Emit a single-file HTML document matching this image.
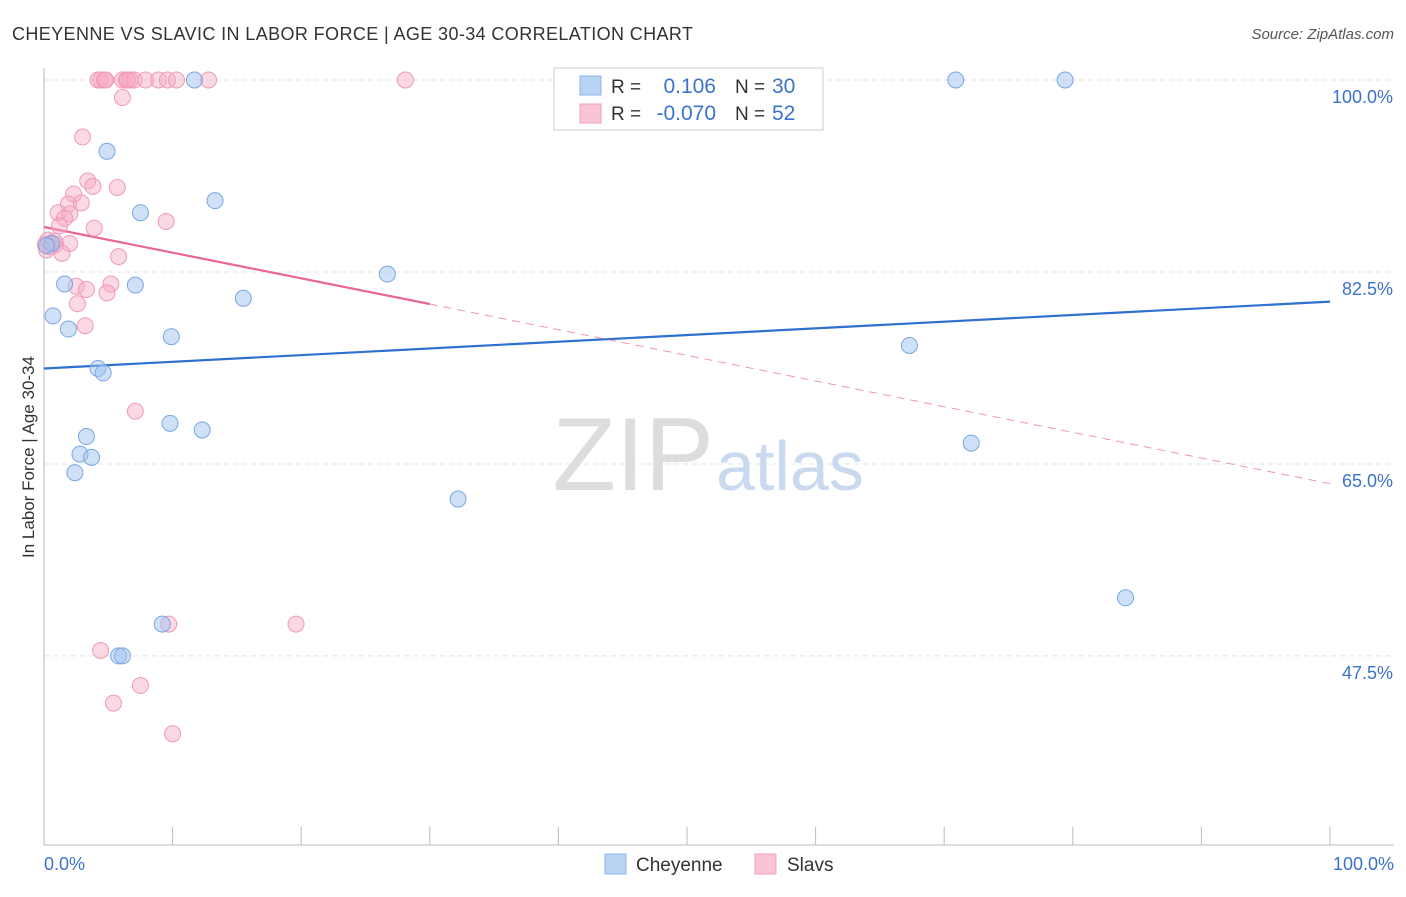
<!DOCTYPE html>
<html><head><meta charset="utf-8"><style>
body{margin:0;background:#fff;font-family:"Liberation Sans",sans-serif;}
svg text{font-family:"Liberation Sans",sans-serif;}
</style></head><body>
<svg id="chart" width="1406" height="892">
<text x="12" y="40" font-size="18" fill="#333" textLength="681">CHEYENNE VS SLAVIC IN LABOR FORCE | AGE 30-34 CORRELATION CHART</text>
<text x="1394" y="39" font-size="15" fill="#555" font-style="italic" text-anchor="end">Source: ZipAtlas.com</text>
<text x="0" y="0" transform="translate(34,457) rotate(-90)" font-size="17" fill="#333" text-anchor="middle">In Labor Force | Age 30-34</text>
<g id="grid"></g>
<g id="axes"></g>
<text x="714" y="490" font-size="104" fill="#ddd" font-family="Liberation Serif" text-anchor="end">ZIP</text>
<text x="716" y="490" font-size="70" fill="#c9d9ef">atlas</text>
<g id="lines"></g>
<g id="pts"></g>
<g>
<rect x="554" y="68" width="269" height="62" fill="#fff" stroke="#ccc"/>
<rect x="580" y="76" width="21" height="19" fill="#b9d3f5" stroke="#8fb4e8"/>
<rect x="580" y="104" width="21" height="19" fill="#f9c4d4" stroke="#f0a0b8"/>
<text x="611" y="93" font-size="19" fill="#333">R =</text>
<text x="716" y="93" font-size="21" fill="#3a73cc" text-anchor="end">0.106</text>
<text x="735" y="93" font-size="19" fill="#333">N =</text>
<text x="772" y="93" font-size="21" fill="#3a73cc">30</text>
<text x="611" y="120" font-size="19" fill="#333">R =</text>
<text x="716" y="120" font-size="21" fill="#3a73cc" text-anchor="end">-0.070</text>
<text x="735" y="120" font-size="19" fill="#333">N =</text>
<text x="772" y="120" font-size="21" fill="#3a73cc">52</text>
</g>
<g>
<rect x="605" y="854" width="21" height="20" fill="#b9d3f5" stroke="#8fb4e8"/>
<text x="636" y="871" font-size="19" fill="#333">Cheyenne</text>
<rect x="755" y="854" width="21" height="20" fill="#f9c4d4" stroke="#f0a0b8"/>
<text x="787" y="871" font-size="19" fill="#333">Slavs</text>
</g>
<text x="44" y="870" font-size="18" fill="#3a73cc">0.0%</text>
<text x="1394" y="870" font-size="18" fill="#3a73cc" text-anchor="end">100.0%</text>
</svg>
<script>
const yTicks=[100,82.5,65,47.5];
const yTickLabels=["100.0%","82.5%","65.0%","47.5%"];
const cheyX=[11.7,70.9,79.4,4.9,7.5,13.3,1.6,7.1,26.7,15.5,0.7,1.9,9.9,67.3,4.2,4.6,9.8,12.3,3.3,2.8,3.7,2.4,72.1,32.2,9.2,84.1,5.8,6.1,0.6,0.2];
const cheyY=[100,100,100,93.5,87.9,89.0,81.4,81.3,82.3,80.1,78.5,77.3,76.6,75.8,73.7,73.3,68.7,68.1,67.5,65.9,65.6,64.2,66.9,61.8,50.4,52.8,47.5,47.5,85.1,84.9];
const slavX=[4.2,4.4,4.7,4.8,6.1,6.4,6.5,6.7,7.0,7.9,8.9,9.6,10.3,12.8,28.1,6.1,3.0,3.4,5.7,3.8,2.3,2.9,1.9,1.1,2.0,1.6,3.9,9.5,1.2,0.3,0.6,0.9,2.0,1.4,5.8,5.2,2.5,3.3,4.9,2.6,3.2,7.1,9.7,19.6,4.4,7.5,5.4,10.0,0.2,0.8,0.5,0.1];
const slavY=[100,100,100,100,100,100,100,100,100,100,100,100,100,100,100,98.4,94.8,90.8,90.2,90.3,89.6,88.8,88.7,87.9,87.8,87.4,86.5,87.1,86.7,85.4,85.1,85.0,85.1,84.2,83.9,81.4,81.2,80.9,80.6,79.6,77.6,69.8,50.4,50.4,48.0,44.8,43.2,40.4,84.5,85.3,84.8,85.0];
const cheyTrend=[73.7,79.8];
const slavTrend=[86.6,63.2];
const slavSolidEnd=30;
const X=v=>44+v*12.86, Y=v=>80+(100-v)*10.97;
const NS="http://www.w3.org/2000/svg";
function mk(t,a,p){const e=document.createElementNS(NS,t);for(const k in a)e.setAttribute(k,a[k]);document.getElementById(p).appendChild(e);return e;}
yTicks.forEach((t,i)=>{
 const l=mk('line',{x1:44,x2:1394,y1:Y(t),y2:Y(t),stroke:'#e4e4e4','stroke-dasharray':'5,4'},'grid');
 
 
 const tx=mk('text',{x:1393,y:Y(t)+23,'font-size':18,fill:'#3a73cc','text-anchor':'end'},'grid');
 tx.textContent=yTickLabels[i];
 
 
});
const ax=mk('line',{x1:44,x2:44,y1:68,y2:845,stroke:'#bbb'},'axes');


const bx=mk('line',{x1:44,x2:1394,y1:845,y2:845,stroke:'#bbb'},'axes');


for(let i=0;i<=10;i++){const t=mk('line',{x1:X(i*10),x2:X(i*10),y1:827,y2:845,stroke:'#bbb'},'axes');
 
 }
const sy=x=>slavTrend[0]+(slavTrend[1]-slavTrend[0])*x/100;
let l1=mk('line',{x1:X(0),y1:Y(cheyTrend[0]),x2:X(100),y2:Y(cheyTrend[1]),stroke:'#2e6fd0','stroke-width':2.2},'lines');


let l2=mk('line',{x1:X(0),y1:Y(sy(0)),x2:X(slavSolidEnd),y2:Y(sy(slavSolidEnd)),stroke:'#e8688f','stroke-width':2.2},'lines');


let l3=mk('line',{x1:X(slavSolidEnd),y1:Y(sy(slavSolidEnd)),x2:X(100),y2:Y(sy(100)),stroke:'#e8688f','stroke-width':1,'stroke-dasharray':'8,6','opacity':0.7},'lines');


slavX.forEach((x,i)=>{const c=mk('circle',{cx:X(x),cy:Y(slavY[i]),r:8,fill:'rgba(246,170,195,0.45)',stroke:'#f09ab5','stroke-width':1},'pts');
 
 });
cheyX.forEach((x,i)=>{const c=mk('circle',{cx:X(x),cy:Y(cheyY[i]),r:8,fill:'rgba(160,195,240,0.5)',stroke:'#7aa6e0','stroke-width':1},'pts');
 
 });
</script>
</body></html>
